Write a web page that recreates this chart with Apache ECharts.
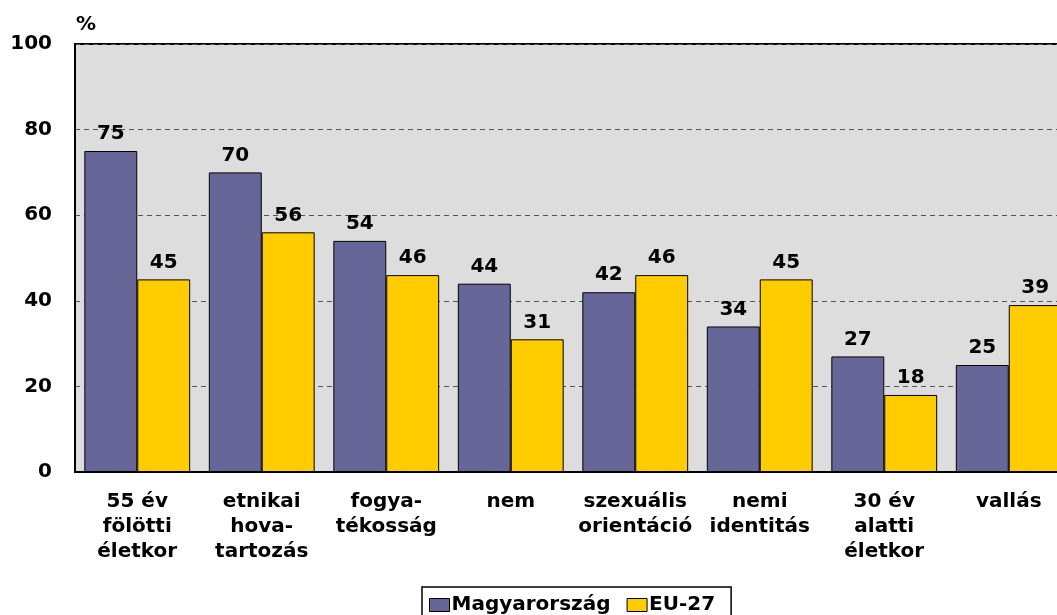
<!DOCTYPE html>
<html>
<head>
<meta charset="utf-8">
<script src="https://cdn.jsdelivr.net/npm/echarts@6/dist/echarts.min.js"></script>
<style>
  html, body { margin: 0; padding: 0; background: #fff; }
  #chart { width: 1057px; height: 615px; }
</style>
</head>
<body>
<div id="chart"></div>
<script>
// kategóriák és értékek
var categories = [
  "55 év\nfölötti\néletkor",
  "etnikai\nhova-\ntartozás",
  "fogya-\ntékosság",
  "nem",
  "szexuális\norientáció",
  "nemi\nidentitás",
  "30 év\nalatti\néletkor",
  "vallás"
];
var hungary = [75, 70, 54, 44, 42, 34, 27, 25];
var eu27 = [45, 56, 46, 31, 46, 45, 18, 39];
var yTicks = [0, 20, 40, 60, 80, 100];

var font = "DejaVu Sans";
var chart = echarts.init(document.getElementById("chart"));

var labelStyle = {
  show: true,
  position: "top",
  distance: 7,
  color: "#000",
  fontFamily: font,
  fontWeight: "bold",
  fontSize: 20
};

chart.setOption({
  animation: false,
  textStyle: { fontFamily: font },
  grid: {
    left: 75,
    top: 44,
    width: 996,
    height: 428,
    outerBoundsMode: "none",
    show: true,
    backgroundColor: "#dddddd",
    borderColor: "#000",
    borderWidth: 2
  },
  legend: {
    top: 587,
    left: 422,
    itemWidth: 20,
    itemHeight: 13,
    itemGap: 16,
    padding: [8, 16, 12, 7],
    borderColor: "#000",
    borderWidth: 1.5,
    icon: "rect",
    itemStyle: { borderColor: "#000", borderWidth: 1 },
    textStyle: {
      fontFamily: font,
      fontWeight: "bold",
      fontSize: 20,
      color: "#000",
      padding: [0, 0, 0, -3]
    },
    data: ["Magyarország", "EU-27"]
  },
  xAxis: {
    type: "category",
    data: categories,
    axisLine: { lineStyle: { color: "#000", width: 2 } },
    axisTick: { show: false },
    axisLabel: {
      interval: 0,
      margin: 17,
      color: "#000",
      fontFamily: font,
      fontWeight: "bold",
      fontSize: 20,
      lineHeight: 25
    }
  },
  yAxis: {
    type: "value",
    min: yTicks[0],
    max: yTicks[yTicks.length - 1],
    interval: 20,
    name: "%",
    nameGap: 9,
    nameTextStyle: {
      color: "#000",
      fontFamily: font,
      fontWeight: "bold",
      fontSize: 20,
      align: "left",
      padding: [0, 0, 0, 1]
    },
    axisLine: { show: true, lineStyle: { color: "#000", width: 2 } },
    axisTick: { show: false },
    axisLabel: {
      margin: 23,
      color: "#000",
      fontFamily: font,
      fontWeight: "bold",
      fontSize: 20
    },
    splitLine: {
      lineStyle: { color: "#555", type: [5, 4], width: 1 }
    }
  },
  series: [
    {
      name: "Magyarország",
      type: "bar",
      data: hungary,
      barGap: "0%",
      barCategoryGap: "15%",
      itemStyle: { color: "#666699", borderColor: "#000", borderWidth: 1 },
      label: labelStyle
    },
    {
      name: "EU-27",
      type: "bar",
      data: eu27,
      itemStyle: { color: "#ffcc00", borderColor: "#000", borderWidth: 1 },
      label: labelStyle
    }
  ]
});
</script>
</body>
</html>
